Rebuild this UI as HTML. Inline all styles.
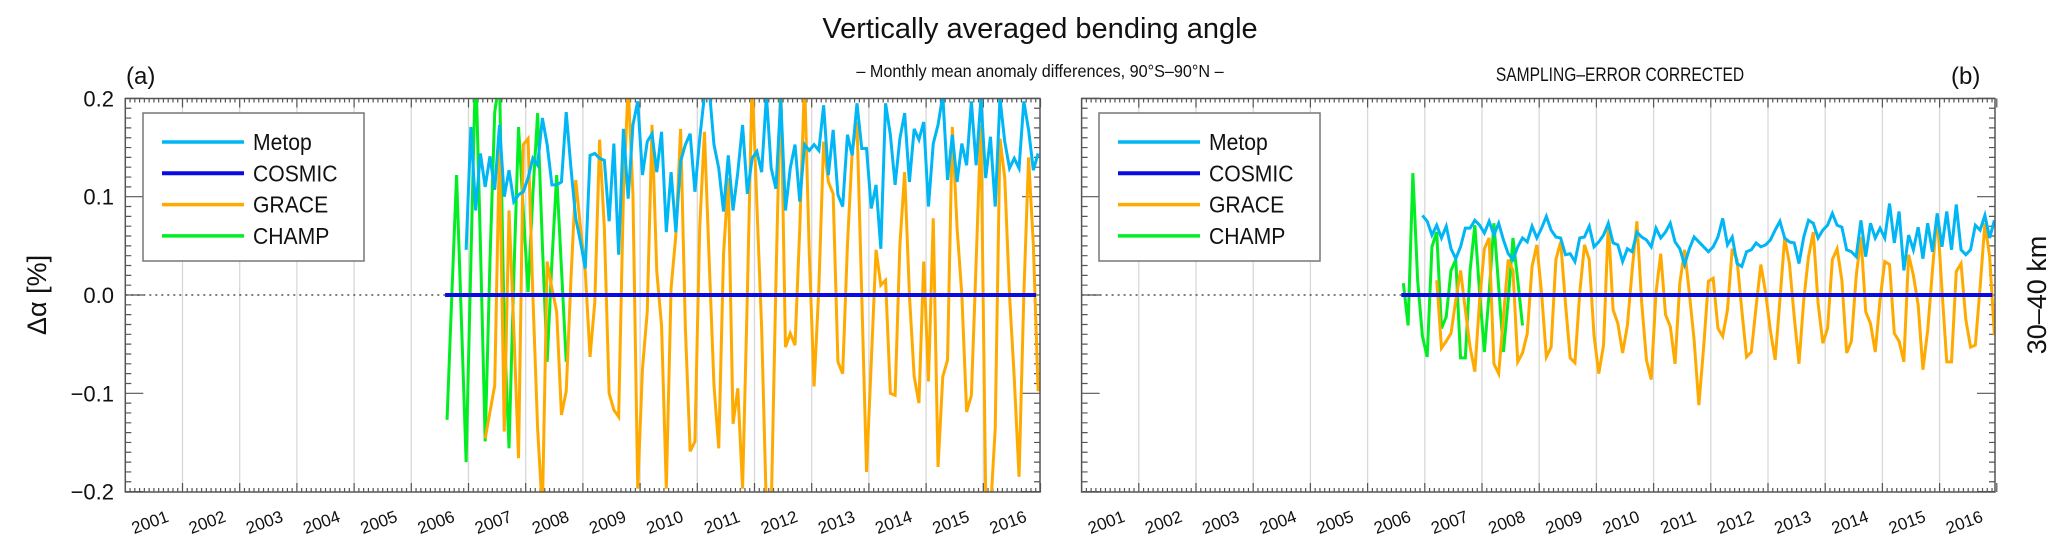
<!DOCTYPE html>
<html><head><meta charset="utf-8"><style>
html,body{margin:0;padding:0;background:#fff;}
svg{display:block;font-family:"Liberation Sans",sans-serif;}
</style></head><body>
<svg id="chart" width="2067" height="556" viewBox="0 0 2067 556" xmlns="http://www.w3.org/2000/svg">
<defs>
<clipPath id="clipA"><rect x="125.3" y="98.5" width="914.7" height="393.5"/></clipPath>
<clipPath id="clipB"><rect x="1081.6" y="98.5" width="913.4" height="393.5"/></clipPath>
</defs>
<text x="1040" y="38" font-size="29" text-anchor="middle" fill="#111">Vertically averaged bending angle</text>
<text x="1040" y="77" font-size="18" text-anchor="middle" fill="#111" transform="translate(1040,0) scale(0.9,1) translate(-1040,0)">– Monthly mean anomaly differences, 90°S–90°N –</text>
<text x="1620" y="81" font-size="19" text-anchor="middle" fill="#111" transform="translate(1620,0) scale(0.82,1) translate(-1620,0)">SAMPLING–ERROR CORRECTED</text>
<text x="126" y="84" font-size="24" fill="#111">(a)</text>
<text x="1951" y="84" font-size="24" fill="#111">(b)</text>
<text transform="translate(46,295) rotate(-90)" font-size="27" text-anchor="middle" fill="#111">Δα [%]</text>
<text transform="translate(2046,295) rotate(-90)" font-size="27" text-anchor="middle" fill="#111">30–40 km</text>
<g id="layer"></g>
</svg>
<script>
// ---- data (months counted from Jan 2006, index m -> 2006+(m+0.5)/12) ----
const yearLabels = [2001,2002,2003,2004,2005,2006,2007,2008,2009,2010,2011,2012,2013,2014,2015,2016];
const yTickValues = [-0.2,-0.1,0.0,0.1,0.2];
const yTickLabels = ["−0.2","−0.1","0.0","0.1","0.2"];
const legendNames = ["Metop","COSMIC","GRACE","CHAMP"];

const cosmicMonths = [7,131];
const cosmicValues = [0,0];

const champAStart = 7;
const champA = [-0.127,0,0.122,-0.024,-0.170,0.034,0.237,0.051,-0.149,0.034,0.186,0.22,-0.034,-0.156,0.017,0.171,0.085,0.003,0.102,0.185,0.051,-0.068,0.034,0.122,0.027,-0.068];

const metopAStart = 11;
const metopA = [0.046,0.171,0.086,0.144,0.110,0.141,0.107,0.173,0.100,0.127,0.095,0.102,0.105,0.119,0.139,0.132,0.180,0.153,0.112,0.112,0.115,0.186,0.129,0.078,0.054,0.027,0.142,0.144,0.139,0.137,0.075,0.154,0.041,0.169,0.098,0.173,0.197,
0.122,0.156,0.164,0.125,0.166,0.064,0.125,0.064,0.136,0.153,0.164,0.105,0.159,0.203,0.21,0.153,0.129,0.085,0.142,0.086,0.125,0.173,0.103,0.139,0.146,0.125,0.203,0.129,0.108,0.2,0.086,0.129,0.153,0.095,0.153,0.147,0.153,0.147,0.193,0.122,0.168,0.102,
0.09,0.163,0.142,0.195,0.149,0.149,0.088,0.112,0.047,0.195,0.163,0.112,0.159,0.185,0.115,0.169,0.158,0.176,0.09,0.154,0.173,0.203,0.117,0.163,0.115,0.154,0.132,0.197,0.132,0.2,0.119,0.161,0.09,0.2,0.156,0.129,0.139,0.129,0.197,0.168,0.127,0.144];

const graceAStart = 15;
const graceA = [-0.146,-0.119,-0.092,0.153,-0.139,0.086,-0.034,-0.166,0.153,0.159,0,-0.136,-0.22,0.034,0.007,-0.017,-0.122,-0.098,0.017,0.117,0.068,0.024,-0.063,-0.007,0.158,0.068,-0.100,-0.117,-0.124,0.102,0.214,
0.102,-0.197,-0.075,-0.017,0.173,0.024,-0.031,-0.197,0.007,0.061,0.169,-0.034,-0.159,-0.149,0.068,0.166,0.034,-0.092,-0.156,0.041,0.119,-0.131,-0.095,-0.197,0,0.22,0.092,-0.034,-0.22,-0.22,0.014,0.22,-0.053,-0.039,-0.051,0.068,0.22,0.041,-0.093,0.007,0.156,0.115,0.103,-0.068,
-0.08,0.051,0.146,0.176,0,-0.18,-0.068,0.046,0.01,0.015,-0.1,-0.102,0.051,0.125,0,-0.083,-0.11,0.034,-0.088,0.078,-0.175,-0.083,-0.066,0.171,0.068,0,-0.119,-0.102,0.034,0.173,-0.203,-0.22,-0.136,0.159,0.119,0,-0.085,-0.185,0,0.14,0.051,-0.098];

const champBStart = 7;
const champB = [0.012,-0.031,0.124,0.015,-0.042,-0.063,0.049,0.064,-0.034,-0.022,0.025,0.036,-0.064,-0.064,0.025,0.071,0.002,-0.058,0.002,0.073,0.008,-0.058,-0.005,0.058,0.015,-0.031];

const metopBStart = 11;
const metopB = [0.081,0.075,0.061,0.071,0.058,0.07,0.047,0.037,0.049,0.068,0.068,0.076,0.071,0.063,0.075,0.061,0.073,0.056,0.042,0.036,0.049,0.058,0.054,0.07,0.058,0.068,0.08,0.066,0.059,0.058,0.041,0.042,0.034,0.058,0.059,0.07,
0.049,0.054,0.061,0.073,0.053,0.051,0.034,0.047,0.044,0.064,0.059,0.056,0.049,0.068,0.058,0.064,0.073,0.054,0.047,0.031,0.047,0.059,0.054,0.049,0.044,0.049,0.059,0.078,0.051,0.059,0.032,0.029,0.044,0.046,0.053,0.049,0.051,0.056,0.066,0.075,0.058,
0.054,0.053,0.032,0.059,0.076,0.073,0.058,0.066,0.071,0.083,0.071,0.069,0.046,0.044,0.039,0.076,0.039,0.073,0.058,0.068,0.058,0.093,0.053,0.085,0.025,0.061,0.046,0.069,0.037,0.073,0.044,0.083,0.049,0.085,0.046,0.092,0.046,0.041,0.046,0.071,0.066,0.081,0.058,0.076];

const graceBStart = 14;
const graceB = [0.015,-0.054,-0.047,-0.039,-0.005,0.025,-0.015,-0.053,-0.078,-0.005,0.047,0.058,-0.07,-0.08,-0.022,0.036,0.025,-0.068,-0.059,-0.039,0.029,0.051,0.002,-0.063,-0.053,0.036,0.054,-0.008,-0.064,-0.069,0.002,0.051,0.036,
-0.041,-0.08,-0.051,0.073,-0.015,-0.029,-0.059,-0.031,0.025,0.075,-0.008,-0.066,-0.086,0.002,0.042,-0.02,-0.032,-0.07,0.012,0.046,0.002,-0.046,-0.112,-0.053,0.014,0.017,-0.034,-0.042,-0.015,0.047,0.036,-0.015,-0.063,-0.058,-0.012,0.031,0.002,-0.036,-0.066,-0.005,0.058,
0.032,-0.022,-0.07,-0.005,0.039,0.064,-0.008,-0.049,-0.034,0.036,0.047,0.015,-0.059,-0.047,0.019,0.059,-0.017,-0.029,-0.058,-0.005,0.034,0.031,-0.039,-0.047,-0.068,0.041,0.02,-0.01,-0.076,-0.036,0.025,0.083,0.005,-0.068,-0.068,0.024,0.032,-0.025,-0.053,-0.051,0.008,0.073,0.039,-0.041];

// ---- layout ----
const NS = "http://www.w3.org/2000/svg";
const layer = document.getElementById("layer");
const PX_YEAR = 57.2, Y_ZERO = 295, PX_UNIT = 983, TOP = 98.5, BOTTOM = 492;
const panels = [
  {id:"a", left:125.3, right:1040, clip:"clipA", metop:metopA, metopStart:metopAStart, grace:graceA, graceStart:graceAStart, champ:champA, champStart:champAStart, labels:true, legendX:143},
  {id:"b", left:1081.6, right:1995, clip:"clipB", metop:metopB, metopStart:metopBStart, grace:graceB, graceStart:graceBStart, champ:champB, champStart:champBStart, labels:false, legendX:1099}
];
const colors = {Metop:"#00b6f4", COSMIC:"#0a0ae6", GRACE:"#ffaa00", CHAMP:"#00ee22"};

function mk(tag, attrs, parent){
  const e = document.createElementNS(NS, tag);
  for (const k in attrs) e.setAttribute(k, attrs[k]);
  (parent||layer).appendChild(e);
  return e;
}
function xYear(p, t){ return p.left + (t - 2001) * PX_YEAR; }
function xMonth(p, m){ return xYear(p, 2006 + (m + 0.5) / 12); }
function yVal(v){ return Y_ZERO - v * PX_UNIT; }

panels.forEach(p => {
  const g = mk("g", {});
  
  
  // gridlines
  for (let yr = 2002; yr <= 2016; yr++) {
    const l = mk("line", {x1:xYear(p,yr), x2:xYear(p,yr), y1:TOP, y2:BOTTOM, stroke:"#d8d8d8", "stroke-width":1.3}, g);
    
    
  }
  // x ticks monthly and yearly (top & bottom)
  let tk = "";
  for (let i = 0; i <= 16*12; i++) {
    const x = p.left + i * PX_YEAR / 12;
    const len = (i % 12 === 0) ? 9 : 4;
    tk += `M${x},${BOTTOM}v${-len}M${x},${TOP}v${len}`;
  }
  for (let k = -20; k <= 20; k++) {
    const y = yVal(k/100);
    const len = (k % 10 === 0) ? 18 : 6;
    tk += `M${p.left},${y}h${len}M${p.right},${y}h${-len}`;
  }
  const ticks = mk("path", {d:tk, stroke:"#555", "stroke-width":1.2, fill:"none"}, g);
  
  
  // x labels
  yearLabels.forEach((yr) => {
    const cx = xYear(p, yr + 0.5) - 4;
    const t = mk("text", {x:cx, y:528, "font-size":17, "text-anchor":"middle", fill:"#111", transform:`rotate(-20 ${cx} 522)`}, g);
    t.textContent = yr;
    
    
  });
  if (p.labels) {
    yTickValues.forEach((v, i) => {
      const t = mk("text", {x:114, y:yVal(v)+8, "font-size":22, "text-anchor":"end", fill:"#111"}, g);
      t.textContent = yTickLabels[i];
      
      
    });
  }
  // dotted zero line up to COSMIC start
  const dz = mk("line", {x1:p.left, x2:xMonth(p, cosmicMonths[0]) - 2, y1:yVal(0), y2:yVal(0), stroke:"#333", "stroke-width":1.2, "stroke-dasharray":"2,4"}, g);
  
  
  const sg = mk("g", {"clip-path":`url(#${p.clip})`}, g);
  function series(name, start, vals, w){
    const pts = vals.map((v,i) => `${xMonth(p, start+i).toFixed(2)},${yVal(v).toFixed(2)}`).join(" ");
    const pl = mk("polyline", {points:pts, fill:"none", stroke:colors[name], "stroke-width":w, "stroke-linejoin":"miter"}, sg);
    
    
  }
  series("CHAMP", p.champStart, p.champ, 3);
  series("GRACE", p.graceStart, p.grace, 3);
  series("Metop", p.metopStart, p.metop, 3);
  const cpts = cosmicMonths.map((m,i) => `${(xMonth(p,m)-2).toFixed(2)},${yVal(cosmicValues[i]).toFixed(2)}`).join(" ");
  const cl = mk("polyline", {points:cpts, fill:"none", stroke:colors.COSMIC, "stroke-width":4}, sg);
  
  
  // frame
  const fr = mk("rect", {x:p.left, y:TOP, width:p.right-p.left, height:BOTTOM-TOP, fill:"none", stroke:"#555", "stroke-width":1.5}, g);
  
  
  // legend
  const lg = mk("g", {}, g);
  
  
  const lb = mk("rect", {x:p.legendX, y:113, width:(p.id==="a"?221:221), height:148, fill:"#fff", stroke:"#777", "stroke-width":1.5}, lg);
  
  
  legendNames.forEach((n, i) => {
    const y = 142 + i * 31.3;
    const lx = p.legendX + 19;
    const ln = mk("line", {x1:lx, x2:lx+82, y1:y, y2:y, stroke:colors[n], "stroke-width":(n==="COSMIC"?4:3.5)}, lg);
    
    
    const t = mk("text", {x:lx+91, y:y+8, "font-size":23, fill:"#111", transform:`translate(${lx+91},0) scale(0.92,1) translate(${-(lx+91)},0)`}, lg);
    t.textContent = n;
    
    
  });
});
</script>
</body></html>
